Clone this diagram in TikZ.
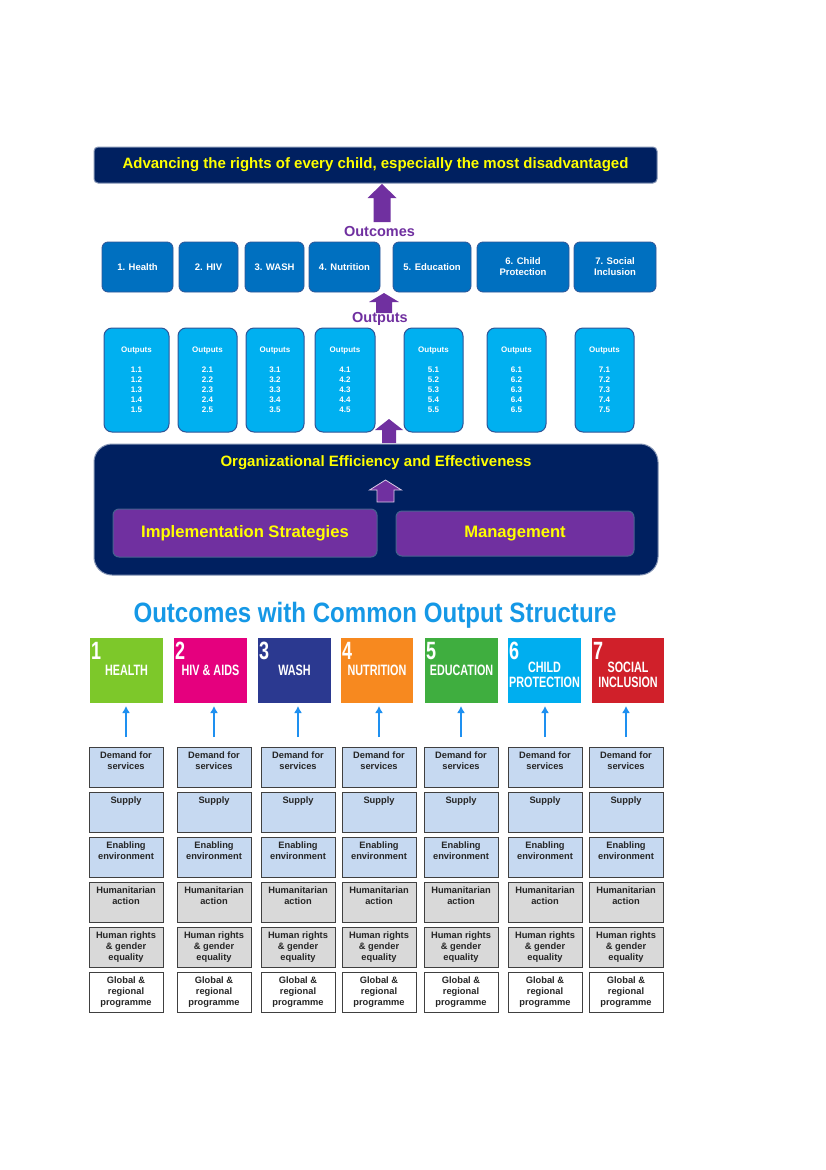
\documentclass[tikz,border=0pt]{standalone}
\usepackage{fontspec}
\setmainfont{Liberation Sans}
\newfontfamily\condfont[FakeStretch=0.72]{Liberation Sans}
\newfontfamily\titlefont[FakeStretch=0.86]{Liberation Sans}
\usetikzlibrary{arrows.meta,calc}
\definecolor{navy}{HTML}{002060}
\definecolor{bannerborder}{HTML}{8494B4}
\definecolor{outcomeblue}{HTML}{0070C0}
\definecolor{outputcyan}{HTML}{00B0F0}
\definecolor{boxborder}{HTML}{2F5597}
\definecolor{purp}{HTML}{7030A0}
\definecolor{yel}{HTML}{FFFF00}
\definecolor{titleblue}{HTML}{1598E6}
\definecolor{arrowblue}{HTML}{1E90F0}
\definecolor{cellblue}{HTML}{C6D9F1}
\definecolor{cellgray}{HTML}{D9D9D9}
\definecolor{cellline}{HTML}{404040}
\definecolor{hgreen}{HTML}{7DC82A}
\definecolor{magentab}{HTML}{E5007E}
\definecolor{navyb}{HTML}{2B3990}
\definecolor{orangeb}{HTML}{F7891F}
\definecolor{greenb}{HTML}{3FAE3F}
\definecolor{cyanb}{HTML}{00AEEF}
\definecolor{redb}{HTML}{D0202A}
\newcommand\uparrowblock[7][]{%
  \fill[purp,#1] (#2,#3) -- ({#2+#6},#4) -- ({#2+#7},#4) -- ({#2+#7},#5) --
    ({#2-#7},#5) -- ({#2-#7},#4) -- ({#2-#6},#4) -- cycle;}
\tikzset{
  banner/.style={draw=bannerborder, line width=1pt, fill=navy, rounded corners=4pt,
    inner sep=0pt, outer sep=0pt, text=yel, font=\bfseries\fontsize{15}{17}\selectfont},
  obox/.style={draw=boxborder, line width=0.8pt, fill=outcomeblue, rounded corners=6pt,
    minimum height=50, inner sep=0pt, outer sep=0pt, text=white, align=center,
    font=\bfseries\fontsize{9.5}{11}\selectfont},
  pbox/.style={draw=boxborder, line width=1pt, fill=outputcyan, rounded corners=8pt,
    minimum height=104, inner sep=0pt, outer sep=0pt, text=white, align=center,
    font=\bfseries\fontsize{8}{10}\selectfont},
  orgbox/.style={draw=bannerborder, line width=1pt, fill=navy, rounded corners=18pt,
    inner sep=0pt, outer sep=0pt},
  purpbox/.style={draw=boxborder!70!gray, line width=1pt, fill=purp, rounded corners=6pt,
    inner sep=0pt, outer sep=0pt, text=yel, font=\bfseries\fontsize{16.6}{18}\selectfont},
  yeltext/.style={text=yel, inner sep=0pt, font=\bfseries\fontsize{15}{17}\selectfont},
  purptext/.style={text=purp, inner sep=0pt, font=\bfseries\fontsize{14.5}{16}\selectfont},
  titletext/.style={text=titleblue, inner sep=0pt, font=\titlefont\bfseries\fontsize{28}{30}\selectfont},
  cbox/.style={draw=none, minimum height=65, inner sep=0pt, outer sep=0pt},
  cnum/.style={text=white, inner sep=0pt, font=\condfont\bfseries\fontsize{25}{25}\selectfont},
  clab/.style={text=white, inner sep=0pt, align=center, font=\condfont\bfseries\fontsize{15}{15}\selectfont},
  cell/.style={draw=cellline, line width=0.9pt, minimum height=40, inner sep=0pt, outer sep=0pt},
  celltext/.style={text=black!85, inner sep=0pt, align=center, font=\bfseries\fontsize{9.3}{11}\selectfont},
  bluearrow/.style={draw=arrowblue, line width=2pt, -{Latex[length=7pt,width=8pt]}},
}
\begin{document}
\begin{tikzpicture}[x=1pt,y=-1pt]
\useasboundingbox[fill=white] (0,0) rectangle (826,1170);

% ---- top banner
\node[banner, minimum width=563, minimum height=36] (ban) at (375.5,165)
  {Advancing the rights of every child, especially the most disadvantaged};

% ---- arrow to banner
\uparrowblock{382}{184}{198}{222}{14.5}{8.5}
\node[purptext] (lblOutcomes) at (379.5,232) {Outcomes};

% ---- outcome boxes
\foreach \i/\xl/\xr/\txt in {1/102/173/{1. Health}, 2/179/238/{2. HIV}, 3/245/304/{3. WASH},
  4/309/380/{4. Nutrition}, 5/393/471/{5. Education}, 6/477/569/{6. Child\\Protection},
  7/574/656/{7. Social\\Inclusion}} {
  \node[obox, minimum width=\xr-\xl] (oc\i) at ({(\xl+\xr)/2},267) {\txt};
}

% ---- arrow outputs -> outcomes
\uparrowblock{384}{293}{302}{313}{15}{8}
\node[purptext] (lblOutputs) at (380,319) {Outputs};

% ---- output boxes
\foreach \i/\xl/\xr in {1/104/169, 2/178/237, 3/246/304, 4/315/375, 5/404/463, 6/487/546, 7/575/634} {
  \node[pbox, minimum width=\xr-\xl] (op\i) at ({(\xl+\xr)/2},380)
    {Outputs\\[10pt]\i.1\\\i.2\\\i.3\\\i.4\\\i.5};
}

% ---- arrow org -> outputs
\uparrowblock{389}{419}{430}{443}{14}{7}

% ---- organisational box
\node[orgbox, minimum width=564, minimum height=131] (org) at (376,509.5) {};
\node[yeltext] (orgtxt) at (376,463) {Organizational Efficiency and Effectiveness};
\uparrowblock[draw=white!75!purp, line width=0.8pt]{385.5}{480}{490}{502}{16}{8.5}
\node[purpbox, minimum width=264, minimum height=48] (impl) at (245,533) {Implementation Strategies};
\node[purpbox, minimum width=238, minimum height=45] (mgmt) at (515,533.5) {Management};

% ---- title
\node[titletext] (title) at (375,615) {Outcomes with Common Output Structure};

% ---- coloured outcome boxes
\foreach \i/\xl/\xr/\col/\ly/\lab in {1/90/163/hgreen/670.5/HEALTH, 2/174/247/magentab/670.5/{HIV \& AIDS},
  3/258/331/navyb/670.5/WASH, 4/341/413/orangeb/670.5/NUTRITION, 5/425/498/greenb/670.5/EDUCATION,
  6/508/581/cyanb/674.5/{CHILD\\PROTECTION}, 7/592/664/redb/674.5/{SOCIAL\\INCLUSION}} {
  \node[cbox, fill=\col, minimum width=\xr-\xl] (cb\i) at ({(\xl+\xr)/2},670.5) {};
  \node[cnum, anchor=north west] (cn\i) at ($(cb\i.north west)+(1,4)$) {\i};
  \node[clab] (cl\i) at ({(\xl+\xr)/2},\ly) {\lab};
}

% ---- grid of common outputs
\foreach \c/\xl/\xr in {1/89/163, 2/177/251, 3/261/335, 4/342/416, 5/424/498, 6/508/582, 7/589/663} {
  \foreach \r/\yt/\fc/\txt in {1/747/cellblue/{Demand for\\services}, 2/792/cellblue/{Supply},
    3/837/cellblue/{Enabling\\environment}, 4/882/cellgray/{Humanitarian\\action},
    5/927/cellgray/{Human rights\\\& gender\\equality}, 6/972/white/{Global \&\\regional\\programme}} {
    \node[cell, fill=\fc, minimum width=\xr-\xl] (c\c-\r) at ({(\xl+\xr)/2},\yt+20) {};
    \node[celltext, anchor=north] (t\c-\r) at ($(c\c-\r.north)+(0,4)$) {\rule{0pt}{7pt}\txt};
  }
}

% ---- blue arrows from grid to coloured boxes
\foreach \i in {1,...,7} {
  \draw[bluearrow] ($(c\i-1.north)+(0,-10)$) -- ($(c\i-1.north |- cb\i.south)+(0,3)$);
}
\end{tikzpicture}
\end{document}
